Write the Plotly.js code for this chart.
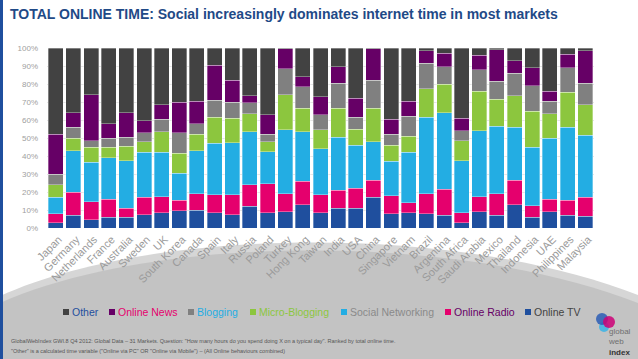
<!DOCTYPE html>
<html>
<head>
<meta charset="utf-8">
<script src="https://cdn.plot.ly/plotly-3.0.1.min.js"></script>
<style>html,body{margin:0;padding:0;background:#fff;}#chart{width:638px;height:359px;}</style>
</head>
<body>
<div id="chart"></div>
<script>
// ---- DATA ----
const markets = ["Japan","Germany","Netherlands","France","Australia","Sweden","UK","South Korea","Canada","Spain","Italy","Russia","Poland","Turkey","Hong Kong","Taiwan","India","USA","China","Singapore","Vietnam","Brazil","Argentina","South Africa","Saudi Arabia","Mexico","Thailand","Indonesia","UAE","Philippines","Malaysia"];
const onlineTV       = [3,   7,  4.5, 6,   6,   7.5, 8.5, 9.5, 10,  8.5, 7.5, 12,  8.5, 9,   13,  8.5, 11,  11,  17,  8,   8.5, 8,   7,   3,   9,   7,   13,  6,   9,   7,   6.5];
const onlineRadio    = [5,   13, 10,  10,  5,   9.5, 9,   6,   9,   10,  11,  12,  16,  10,  13,  10,  10,  11,  9.5, 10,  5.5, 11,  14.5,5.5, 8.5, 12,  13.5,6.5, 7,   8.5, 10.5];
const socialNet      = [9,   23, 22,  23,  26.5,25,  24.5,15,  24,  28.5,29,  29.5,18,  35.5,27.5,25.5,29.5,24,  21.5,19,  28,  42.5,42.5,29,  36.5,37.5,29.5,32.5,34,  40.5,34.5];
const microBlogging  = [7,   7,  8.5, 6,   8,   6,   11.5,11,  9,   14.5,13.5,10,  5.5, 19.5,13,  10.5,16,  9,   18.5,9,   9,   16,  16,  11,  22,  15,  17.5,20,  13.5,19.5,17];
const blogging       = [6,   6,  3.5, 5,   5,   5,   7,   11.5,6,   9.5, 9,   6,   4,   14.5,12,  8.5, 14,  6.5, 15.5,6,   11,  14,  9.5, 5.5, 12,  10,  12.5,14,  7,   13.5,12];
const onlineNews     = [22,  8,  25.5,8,   13.5,6.5, 8,   17,  12.5,19.5,12,  4,   11,  11,  5.5, 10,  9,   10.5,17.5,8.5, 8.5, 7,   7.5, 7,   8,   17.5,7,   10,  5.5, 7.5, 18];
const other          = [48,  36, 26,  42,  36,  40.5,31.5,30,  29.5,9.5, 18,  26.5,37,  0.5, 16,  27,  10.5,28,  0.5, 39.5,29.5,1.5, 3,   39,  4,   1,   7,   11,  24,  3.5, 1.5];
const yTicks = [0,10,20,30,40,50,60,70,80,90,100];
const yTickLabels = ["0%","10%","20%","30%","40%","50%","60%","70%","80%","90%","100%"];

const seriesNames  = ["Online TV","Online Radio","Social Networking","Micro-Blogging","Blogging","Online News","Other"];
const seriesValues = [onlineTV, onlineRadio, socialNet, microBlogging, blogging, onlineNews, other];
const seriesColors = ["#1f4f9e","#e5006d","#23ade3","#8cc63e","#808080","#660066","#424242"];

// ---- LAYOUT HELPERS ----
const W = 638, H = 359;
const M = {l:47, r:44, t:48, b:131};
const PW = W - M.l - M.r, PH = H - M.t - M.b;
const px = x => (x - M.l) / PW;
const py = y => (H - M.b - y) / PH;

const traces = seriesNames.map((n, i) => ({
  type: 'bar', name: n, x: markets, y: seriesValues[i],
  marker: {color: seriesColors[i], line: {color: 'rgba(255,255,255,0.55)', width: 0.6}},
  hoverinfo: 'skip'
}));

const shapes = [];
const annotations = [];

// background swoosh
shapes.push({type:'path', xref:'paper', yref:'paper', layer:'below', line:{width:0}, fillcolor:'#d6d6d6',
  path:`M${px(0)},${py(296)} C${px(150)},${py(228)} ${px(450)},${py(222)} ${px(638)},${py(295)} L${px(638)},${py(359)} L${px(0)},${py(359)} Z`});
shapes.push({type:'path', xref:'paper', yref:'paper', layer:'below', line:{width:0}, fillcolor:'#c3c3c3',
  path:`M${px(0)},${py(303)} C${px(150)},${py(236)} ${px(450)},${py(230)} ${px(638)},${py(303)} L${px(638)},${py(359)} L${px(0)},${py(359)} Z`});
// left blue stripe
shapes.push({type:'rect', xref:'paper', yref:'paper', layer:'above', line:{width:0}, fillcolor:'#1f4f9e',
  x0:px(0), x1:px(3), y0:py(0), y1:py(359)});

// custom legend (order as shown)
const legendOrder = [6,5,4,3,2,1,0];
const legendTextColors = ["#1f4f9e","#e5006d","#23ade3","#8cc63e","#8a8a8a","#660066","#424242"];
const legendX = [63,109,188,250,341,445,525];
const legendY = 312;
legendOrder.forEach((si, k) => {
  shapes.push({type:'rect', xref:'paper', yref:'paper', line:{width:0}, fillcolor:seriesColors[si],
    x0:px(legendX[k]), x1:px(legendX[k]+6), y0:py(legendY+3), y1:py(legendY-3)});
  annotations.push({xref:'paper', yref:'paper', x:px(legendX[k]+7), y:py(legendY), xanchor:'left', yanchor:'middle',
    showarrow:false, text:seriesNames[si], font:{family:'Liberation Sans, Arial, sans-serif', size:10.5, color:legendTextColors[k]}});
});

// footnotes
annotations.push({xref:'paper', yref:'paper', x:px(9), y:py(341), xanchor:'left', yanchor:'middle', showarrow:false,
  text:'GlobalWebIndex GWI.8 Q4 2012: Global Data – 31 Markets. Question: "How many hours do you spend doing X on a typical day". Ranked by total online time.',
  font:{family:'Liberation Sans, Arial, sans-serif', size:5.5, color:'#555'}});
annotations.push({xref:'paper', yref:'paper', x:px(9), y:py(351), xanchor:'left', yanchor:'middle', showarrow:false,
  text:'"Other" is a calculated time variable ("Online via PC" OR "Online via Mobile") – (All Online behaviours combined)',
  font:{family:'Liberation Sans, Arial, sans-serif', size:5.5, color:'#555'}});

// logo
const circ = (cx, cy, r, c) => ({type:'circle', xref:'paper', yref:'paper', line:{width:0}, fillcolor:c, opacity:0.85,
  x0:px(cx-r), x1:px(cx+r), y0:py(cy+r), y1:py(cy-r)});
shapes.push(circ(604,327,5,'#3ab4e6'));
shapes.push(circ(602,319,6,'#2b5db5'));
shapes.push(circ(609,322,6,'#cc0077'));
annotations.push({xref:'paper', yref:'paper', x:px(606), y:py(342), xanchor:'left', yanchor:'middle', showarrow:false, align:'left',
  text:'<span style="color:#6f6f6f">global</span><br><span style="color:#6f6f6f">web</span><br><b>index</b>',
  font:{family:'Liberation Sans, Arial, sans-serif', size:8, color:'#333'}});

const layout = {
  width: W, height: H,
  margin: M,
  paper_bgcolor: '#ffffff', plot_bgcolor: '#ffffff',
  barmode: 'stack', bargap: 0.15,
  showlegend: false,
  title: {text: 'TOTAL ONLINE TIME: Social increasingly dominates internet time in most markets',
    x: 10/W, xref: 'container', xanchor: 'left', y: 1 - 14/H, yref: 'container', yanchor: 'middle',
    font: {family: 'Liberation Sans Narrow, Liberation Sans, Arial, sans-serif', size: 14, color: '#1f4a87', weight: 'bold'}},
  xaxis: {tickangle: -45, tickfont: {family: 'Liberation Sans, Arial, sans-serif', size: 11, color: '#9a9a9a'},
    ticklabelshift: 3, ticklabelstandoff: 2,
    showgrid: false, zeroline: false, showline: false, ticks: '', automargin: false, fixedrange: true},
  yaxis: {range: [0, 100], tickmode: 'array', tickvals: yTicks, ticktext: yTickLabels, ticks: '', ticklabelstandoff: 8,
    tickfont: {family: 'Liberation Sans, Arial, sans-serif', size: 8, color: '#a0a0a0'},
    showgrid: true, gridcolor: '#e6e6e6', gridwidth: 1, zeroline: false, showline: false, automargin: false, fixedrange: true},
  shapes: shapes,
  annotations: annotations
};

Plotly.newPlot('chart', traces, layout, {displayModeBar: false, staticPlot: true});
</script>
</body>
</html>
